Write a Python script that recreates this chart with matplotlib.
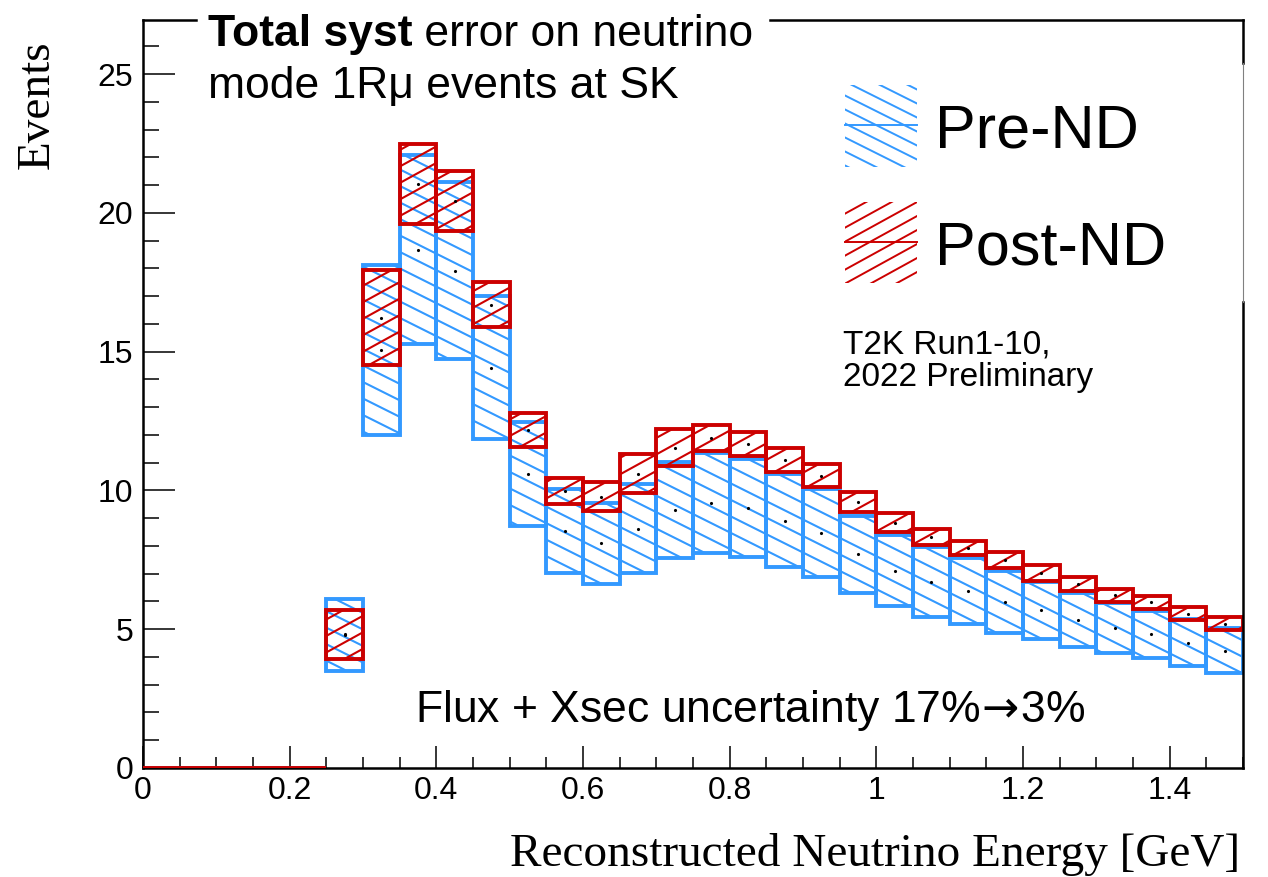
import numpy as np
import matplotlib
matplotlib.use('Agg')
import matplotlib.pyplot as plt
from matplotlib.patches import Rectangle
from matplotlib.collections import LineCollection

plt.rcParams['font.family'] = ['Liberation Sans', 'DejaVu Sans']

# binning: 0 - 1.5 GeV in 50 MeV bins
edges = np.round(np.arange(0.0, 1.5001, 0.05), 2)

# pre-ND band (low / high edge per bin)
pre_lo = [0, 0, 0, 0, 0,
          3.50, 12.00, 15.27, 14.73, 11.85, 8.72, 7.02, 6.63, 7.02, 7.56,
          7.74, 7.60, 7.24, 6.88, 6.32, 5.82, 5.44, 5.20, 4.88, 4.65,
          4.36, 4.14, 3.96, 3.67, 3.42]
pre_hi = [0, 0, 0, 0, 0,
          6.09, 18.12, 22.08, 21.10, 17.00, 12.46, 10.05, 9.55, 10.23, 11.02,
          11.35, 11.13, 10.59, 10.05, 9.08, 8.39, 7.96, 7.56, 7.10, 6.70,
          6.30, 5.94, 5.66, 5.37, 5.04]

# post-ND band
post_lo = [0, 0, 0, 0, 0,
           3.93, 14.52, 19.60, 19.35, 15.89, 11.56, 9.51, 9.26, 9.90, 10.88,
           11.42, 11.24, 10.66, 10.12, 9.22, 8.50, 8.03, 7.66, 7.20, 6.74,
           6.38, 5.98, 5.73, 5.33, 4.97]
post_hi = [0, 0, 0, 0, 0,
           5.69, 17.94, 22.48, 21.50, 17.50, 12.79, 10.45, 10.30, 11.31, 12.21,
           12.36, 12.10, 11.53, 10.95, 9.94, 9.19, 8.61, 8.18, 7.80, 7.31,
           6.88, 6.45, 6.20, 5.80, 5.44]

xticks = [0, 0.2, 0.4, 0.6, 0.8, 1.0, 1.2, 1.4]
yticks = [0, 5, 10, 15, 20, 25]

c_pre = '#3399ff'
c_post = '#cc0000'

W, H = 12.68, 8.77
fig = plt.figure(figsize=(W, H), dpi=100, facecolor='w')
ax = fig.add_axes([0.11278, 0.12429, 0.86751, 0.85291])


def hatch_segments(slope, spacing):
    # parallel lines over the whole figure, in inches
    if slope > 0:
        cs = np.arange(-slope * W, H, spacing)
    else:
        cs = np.arange(0, H - slope * W, spacing)
    return [[(0, c), (W, c + slope * W)] for c in cs]


def hatch_patch(patch, slope, color, spacing=0.165, lw=1.5, z=2):
    lc = LineCollection(hatch_segments(slope, spacing), colors=color,
                        linewidths=lw, transform=fig.dpi_scale_trans, zorder=z)
    ax.add_collection(lc, autolim=False)
    lc.set_clip_path(patch)


def draw_band(lo, hi, color, slope, z):
    for i in range(len(lo)):
        x0 = edges[i]
        w = edges[i + 1] - edges[i]
        r = Rectangle((x0, lo[i]), w, hi[i] - lo[i], facecolor='none',
                      edgecolor=color, linewidth=2.8, zorder=z + 0.5,
                      joinstyle='miter')
        ax.add_patch(r)
        if hi[i] > lo[i]:
            hatch_patch(r, slope, color, z=z)


draw_band(pre_lo, pre_hi, c_pre, -0.5, 2)
draw_band(post_lo, post_hi, c_post, 0.55, 3)

# central values
centers = 0.5 * (edges[:-1] + edges[1:])
pre_mid = 0.5 * (np.array(pre_lo) + np.array(pre_hi))
post_mid = 0.5 * (np.array(post_lo) + np.array(post_hi))
m = pre_mid > 0
ax.plot(centers[m], pre_mid[m], 'k.', markersize=2.5, zorder=5)
ax.plot(centers[m], post_mid[m], 'k.', markersize=2.5, zorder=5)

ax.set_xlim(0, 1.5)
ax.set_ylim(0, 26.95)

ax.set_xticks(xticks)
ax.set_xticklabels(['%g' % t for t in xticks])
ax.set_xticks(np.arange(0, 1.5001, 0.05), minor=True)
ax.set_yticks(yticks)
ax.set_yticks(np.arange(0, 27, 1), minor=True)
ax.tick_params(axis='x', which='major', direction='in', length=16, width=1.1,
               labelsize=23, pad=6, top=False)
ax.tick_params(axis='x', which='minor', direction='in', length=8, width=1.1, top=False)
ax.tick_params(axis='y', which='major', direction='in', length=23, width=1.1,
               labelsize=23, pad=7, right=False)
ax.tick_params(axis='y', which='minor', direction='in', length=11.5, width=1.1, right=False)

for s in ['left', 'bottom']:
    ax.spines[s].set_linewidth(1.8)
ax.spines['top'].set_visible(False)
ax.spines['right'].set_visible(False)

# frame pieces around the title and legend
fr = dict(transform=ax.transAxes, clip_on=False, color='k', lw=1.8, zorder=6)
ax.plot([0, 0.048], [1, 1], **fr)
ax.plot([0.57, 1], [1, 1], **fr)
ax.plot([1, 1], [0, 0.623], **fr)
ax.plot([1, 1], [0.9425, 1], **fr)
ax.plot([1, 1], [0.623, 0.9425], transform=ax.transAxes, clip_on=False,
        color='0.5', lw=0.8, zorder=6)

# axis titles
ax.text(-0.077, 0.973, 'Events', rotation=90, rotation_mode='anchor',
        ha='right', va='bottom', transform=ax.transAxes,
        family='Liberation Serif', fontsize=34)
ax.text(0.997, -0.131, 'Reconstructed Neutrino Energy [GeV]', ha='right',
        va='baseline', transform=ax.transAxes, family='Liberation Serif',
        fontsize=34)

# title
t1 = ax.text(0.059, 0.965, 'Total syst', fontweight='bold', fontsize=32,
             ha='left', va='baseline', transform=ax.transAxes)
ax.annotate(' error on neutrino', xy=(1, 0), xycoords=t1, ha='left',
            va='bottom', fontsize=32)
ax.text(0.059, 0.8957, 'mode 1R\u03bc events at SK', fontsize=32, ha='left',
        va='baseline', transform=ax.transAxes)

# legend
for (y0, y1, ym), col, slope, lab in [((0.8035, 0.9131, 0.8596), c_pre, -0.5, 'Pre-ND'),
                                      ((0.6484, 0.7567, 0.7032), c_post, 0.55, 'Post-ND')]:
    sw = Rectangle((0.6382, y0), 0.0654, y1 - y0, transform=ax.transAxes,
                   facecolor='none', edgecolor='none')
    ax.add_patch(sw)
    hatch_patch(sw, slope, col, spacing=0.14, lw=1.4, z=4)
    ax.plot([0.6382, 0.7036], [ym, ym], transform=ax.transAxes, color=col,
            lw=1.4, zorder=4)
    ax.text(0.72, ym, lab, fontsize=44, ha='left', va='center_baseline',
            transform=ax.transAxes)

ax.text(0.636, 0.544, 'T2K Run1-10,\n2022 Preliminary', fontsize=24,
        ha='left', va='center', linespacing=1.05, transform=ax.transAxes)

ax.text(0.247, 0.0615, r'Flux + Xsec uncertainty 17%$\!\rightarrow\!$3%', fontsize=32,
        ha='left', va='baseline', transform=ax.transAxes)

fig.savefig('out.png', dpi=100, facecolor='w')
plt.close(fig)
